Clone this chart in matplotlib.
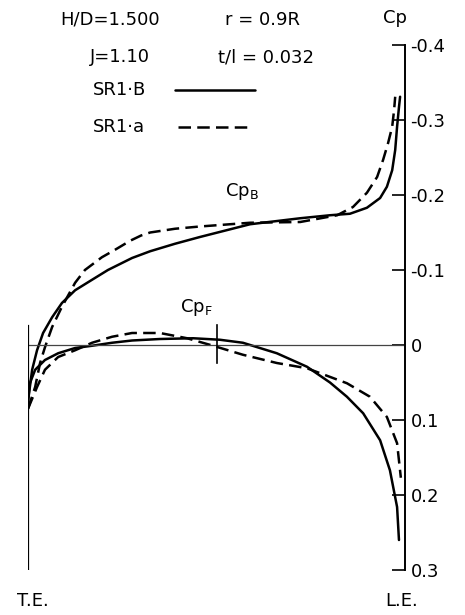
import matplotlib
matplotlib.use("Agg")
import matplotlib.pyplot as plt

plt.rcParams["font.family"] = ["DejaVu Sans"]
plt.rcParams["axes.unicode_minus"] = False

# chord position: 0 = trailing edge (T.E.), 1 = leading edge (L.E.)
# back side, SR1-B (solid)
back_b_x = [0.000, 0.011, 0.024, 0.040, 0.064, 0.090, 0.125, 0.170, 0.212, 0.276,
            0.324, 0.390, 0.456, 0.589, 0.722, 0.801, 0.854, 0.899, 0.934, 0.952,
            0.966, 0.974, 0.979, 0.984, 0.987]
back_b_cp = [0.075, 0.033, 0.007, -0.016, -0.037, -0.056, -0.073, -0.087, -0.100, -0.116,
             -0.125, -0.135, -0.144, -0.161, -0.169, -0.173, -0.175, -0.183, -0.196, -0.211,
             -0.233, -0.260, -0.291, -0.317, -0.331]
# back side, SR1-a (dashed)
back_a_x = [0.000, 0.019, 0.032, 0.045, 0.064, 0.090, 0.125, 0.151, 0.196, 0.231,
            0.271, 0.300, 0.324, 0.390, 0.456, 0.589, 0.722, 0.820, 0.862, 0.899,
            0.926, 0.942, 0.955, 0.966, 0.971, 0.974]
back_a_cp = [0.085, 0.056, 0.024, 0.003, -0.024, -0.051, -0.083, -0.100, -0.117, -0.127,
             -0.139, -0.146, -0.150, -0.155, -0.158, -0.163, -0.164, -0.173, -0.184, -0.203,
             -0.224, -0.247, -0.269, -0.291, -0.313, -0.331]
# face side, SR1-B (solid)
face_b_x = [0.000, 0.005, 0.019, 0.045, 0.080, 0.125, 0.170, 0.223, 0.276, 0.350,
            0.438, 0.509, 0.570, 0.660, 0.740, 0.801, 0.846, 0.889, 0.934, 0.960,
            0.979, 0.984]
face_b_cp = [0.075, 0.051, 0.033, 0.020, 0.011, 0.004, 0.001, -0.003, -0.006, -0.008,
             -0.009, -0.007, -0.003, 0.011, 0.029, 0.050, 0.069, 0.091, 0.127, 0.167,
             0.216, 0.260]
# face side, SR1-a (dashed)
face_a_x = [0.000, 0.024, 0.045, 0.080, 0.125, 0.170, 0.223, 0.276, 0.350, 0.422,
            0.491, 0.570, 0.660, 0.740, 0.846, 0.907, 0.952, 0.979, 0.989]
face_a_cp = [0.085, 0.056, 0.033, 0.016, 0.007, -0.003, -0.011, -0.016, -0.016, -0.009,
             0.001, 0.013, 0.024, 0.031, 0.051, 0.069, 0.096, 0.131, 0.177]

cp_ticks = [-0.4, -0.3, -0.2, -0.1, 0.0, 0.1, 0.2, 0.3]
cp_labels = ["-0.4", "-0.3", "-0.2", "-0.1", "0", "0.1", "0.2", "0.3"]

W, H = 465, 615
fig = plt.figure(figsize=(W / 100, H / 100), dpi=100)
ax = fig.add_axes([28 / W, 1 - 570 / H, 377 / W, 525 / H])

lw = 1.8
dash = (0, (5, 2.5))
solid = dict(color="black", lw=lw, solid_capstyle="round", solid_joinstyle="round")
dashed = dict(color="black", lw=lw, linestyle=dash, dash_joinstyle="round")
ax.plot(back_b_x, back_b_cp, **solid)
ax.plot(face_b_x, face_b_cp, **solid)
ax.plot(back_a_x, back_a_cp, **dashed)
ax.plot(face_a_x, face_a_cp, **dashed)

# frame: zero line, T.E. line, mid-chord mark
ax.axhline(0, color="#444444", lw=0.9)
ax.plot([0, 0], [-0.025, 0.3], color="black", lw=1.6)
ax.plot([0.5, 0.5], [-0.027, 0.024], color="black", lw=1.2)

ax.set_xlim(0, 1)
ax.set_ylim(0.3, -0.4)
for s in ["top", "left", "bottom"]:
    ax.spines[s].set_visible(False)
ax.spines["right"].set_linewidth(1.4)
ax.set_xticks([])
ax.yaxis.tick_right()
ax.set_yticks(cp_ticks)
ax.set_yticklabels(cp_labels)
ax.tick_params(axis="y", direction="in", length=9.5, width=1.2, labelsize=13, pad=4)
ax.patch.set_visible(False)

# legend samples
ax.plot([0.39, 0.602], [0.914, 0.914], transform=ax.transAxes, clip_on=False, **solid)
ax.plot([0.398, 0.595], [0.844, 0.844], transform=ax.transAxes, clip_on=False, **dashed)


def px(x, y):
    return x / W, 1 - y / H


fs = 13
fig.text(*px(60, 20), "H/D=1.500", fontsize=fs, va="center", ha="left")
fig.text(*px(225, 20), "r = 0.9R", fontsize=fs, va="center", ha="left")
fig.text(*px(90, 57), "J=1.10", fontsize=fs, va="center", ha="left")
fig.text(*px(218, 57), "t/l = 0.032", fontsize=fs, va="center", ha="left")
fig.text(*px(93, 90), "SR1·B", fontsize=fs, va="center", ha="left")
fig.text(*px(93, 127), "SR1·a", fontsize=fs, va="center", ha="left")
fig.text(*px(383, 18), "Cp", fontsize=fs, va="center", ha="left")
fig.text(*px(242, 191), r"Cp$_\mathregular{B}$", fontsize=fs, va="center", ha="center")
fig.text(*px(196, 307), r"Cp$_\mathregular{F}$", fontsize=fs, va="center", ha="center")
fig.text(*px(33, 601), "T.E.", fontsize=fs, va="center", ha="center")
fig.text(*px(402, 601), "L.E.", fontsize=fs, va="center", ha="center")

fig.savefig("out.png", dpi=100)
